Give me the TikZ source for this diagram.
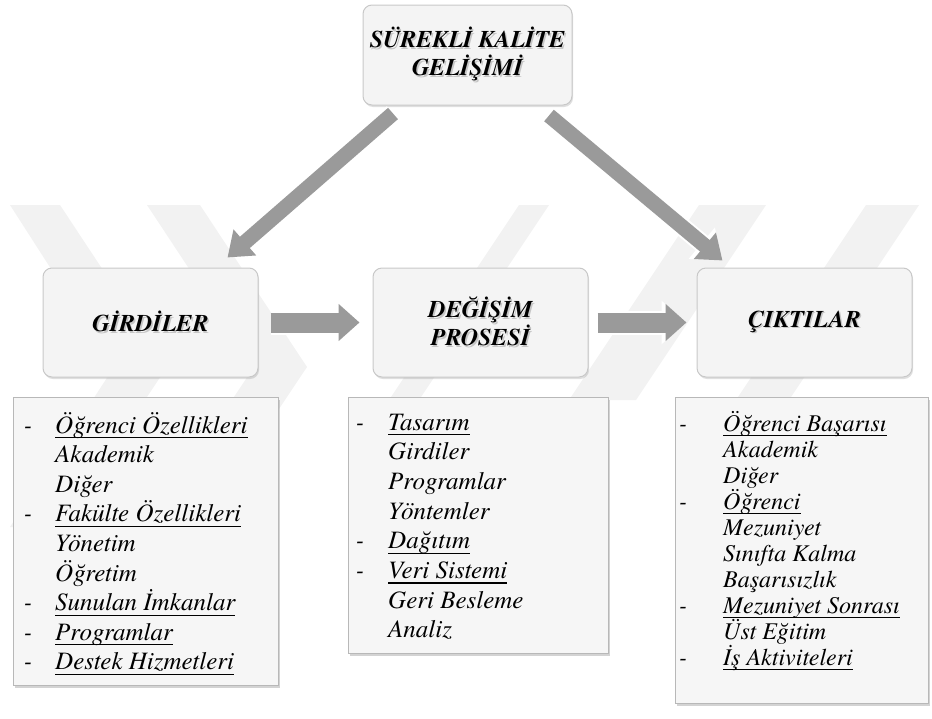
\documentclass[tikz,border=0pt]{standalone}
\usepackage{fontspec}
\setmainfont{texgyretermes}[Extension=.otf, UprightFont=*-regular, ItalicFont=*-italic, BoldFont=*-bold, BoldItalicFont=*-bolditalic]
\usetikzlibrary{shadows,arrows.meta,calc}
\definecolor{boxfill}{HTML}{F4F4F4}
\definecolor{boxedge}{HTML}{C8C8C8}
\definecolor{listfill}{HTML}{F6F6F6}
\definecolor{listedge}{HTML}{B8B8B8}
\definecolor{arrowgray}{HTML}{9A9A9A}
\definecolor{wm}{HTML}{F2F2F2}
\newcommand\ulx[1]{\setbox0\hbox{#1}\rlap{\rule[-5pt]{\wd0}{1.1pt}}\box0}
\newcommand\di[2][23pt]{\llap{-\hspace{#1}}\ulx{#2}}
\newcommand\sh[1]{\rlap{\hspace{1.5pt}\raisebox{-1.5pt}{\textcolor{gray!45}{#1}}}#1}
\begin{document}
\begin{tikzpicture}[x=1pt,y=-1pt,
  titlebox/.style={rounded corners=9pt, fill=boxfill, draw=boxedge, line width=1pt,
    drop shadow={opacity=0.25, shadow xshift=1pt, shadow yshift=-2pt},
    align=center, inner sep=0pt,
    font=\fontsize{24}{28}\selectfont\bfseries\itshape},
  listbox/.style={anchor=north west, fill=listfill, draw=listedge, line width=1pt,
    drop shadow={opacity=0.35, shadow xshift=1.5pt, shadow yshift=-2pt}, inner sep=0pt},
  lt/.style={anchor=base west, inner sep=0pt, font=\fontsize{25}{30}\selectfont\itshape},
  ltr/.style={anchor=base west, inner sep=0pt, font=\fontsize{24}{28}\selectfont\itshape},
  barrow/.style={draw=arrowgray, line width=20pt, -{Triangle[width=36pt,length=21pt]},
    preaction={draw=white, line width=24pt, -{Triangle[width=42pt,length=25pt]}}},
  darrow/.style={draw=arrowgray, line width=15pt, -{Triangle[width=33pt,length=23pt]},
    preaction={draw=white, line width=19pt, -{Triangle[width=39pt,length=27pt]}}},
  wmark/.style={fill=wm, draw=none}]
\useasboundingbox (0,0) rectangle (932,718);
% watermark
\fill[wmark] (10,205) -- (60,205) -- (167,367) -- (60,527) -- (10,527) -- (114,367) -- cycle;
\fill[wmark] (147,205) -- (200,205) -- (307,367) -- (200,527) -- (147,527) -- (254,367) -- cycle;
\fill[wmark] (519,205) -- (549,205) -- (419,400) -- (389,400) -- cycle;
\fill[wmark] (699,205) -- (766,205) -- (636,400) -- (569,400) -- cycle;
\fill[wmark] (866,205) -- (919,205) -- (789,400) -- (736,400) -- cycle;
% title boxes
\node[titlebox, minimum width=209pt, minimum height=100pt] (top) at (467.5,55)
  {\sh{SÜREKLİ KALİTE}\\\sh{GELİŞİMİ}};
\node[titlebox, minimum width=215pt, minimum height=109pt] (gir) at (150.5,322.5) {\sh{GİRDİLER}};
\node[titlebox, minimum width=215pt, minimum height=109pt] (deg) at (480.5,322.5) {\sh{DEĞİŞİM}\\\sh{PROSESİ}};
\node[titlebox, minimum width=215pt, minimum height=109pt] (cik) at (804.5,322.5) {\sh{ÇIKTILAR}};
% arrows
\draw[barrow] ($(gir.east)+(12,0)$) -- ($(deg.west)+(-13,0)$);
\draw[barrow] ($(deg.east)+(9,0)$) -- ($(cik.west)+(-10,0)$);
\draw[darrow] ($(top.south)+(-74.5,8)$) -- ($(gir.north east)+(-31,-10)$);
\draw[darrow] ($(top.south)+(81.5,10)$) -- ($(cik.north west)+(26,-7)$);
% list boxes
\node[listbox, minimum width=265pt, minimum height=288pt] (lb1) at (13,397) {};
\node[listbox, minimum width=260pt, minimum height=256pt] (lb2) at (348,397) {};
\node[listbox, minimum width=253pt, minimum height=306pt] (lb3) at (675,397) {};
\foreach \t [count=\i from 0] in {{\di{Öğrenci Özellikleri}},Akademik,Diğer,{\di{Fakülte Özellikleri}},Yönetim,Öğretim,{\di{Sunulan İmkanlar}},{\di{Programlar}},{\di{Destek Hizmetleri}}}
  \node[lt, name=ga\i] at (55,433+29.6*\i) {\t};
\foreach \t [count=\i from 0] in {{\di[24pt]{Tasarım}},Girdiler,Programlar,Yöntemler,{\di[24pt]{Dağıtım}},{\di[24pt]{Veri Sistemi}},Geri Besleme,Analiz}
  \node[lt, name=gb\i] at (388,430+29.7*\i) {\t};
\foreach \t [count=\i from 0] in {{\di[36pt]{Öğrenci Başarısı}},Akademik,Diğer,{\di[36pt]{Öğrenci}},Mezuniyet,Sınıfta Kalma,Başarısızlık,{\di[36pt]{Mezuniyet Sonrası}},Üst Eğitim,{\di[36pt]{İş Aktiviteleri}}}
  \node[ltr, name=gc\i] at (723,431+26*\i) {\t};
\end{tikzpicture}
\end{document}
